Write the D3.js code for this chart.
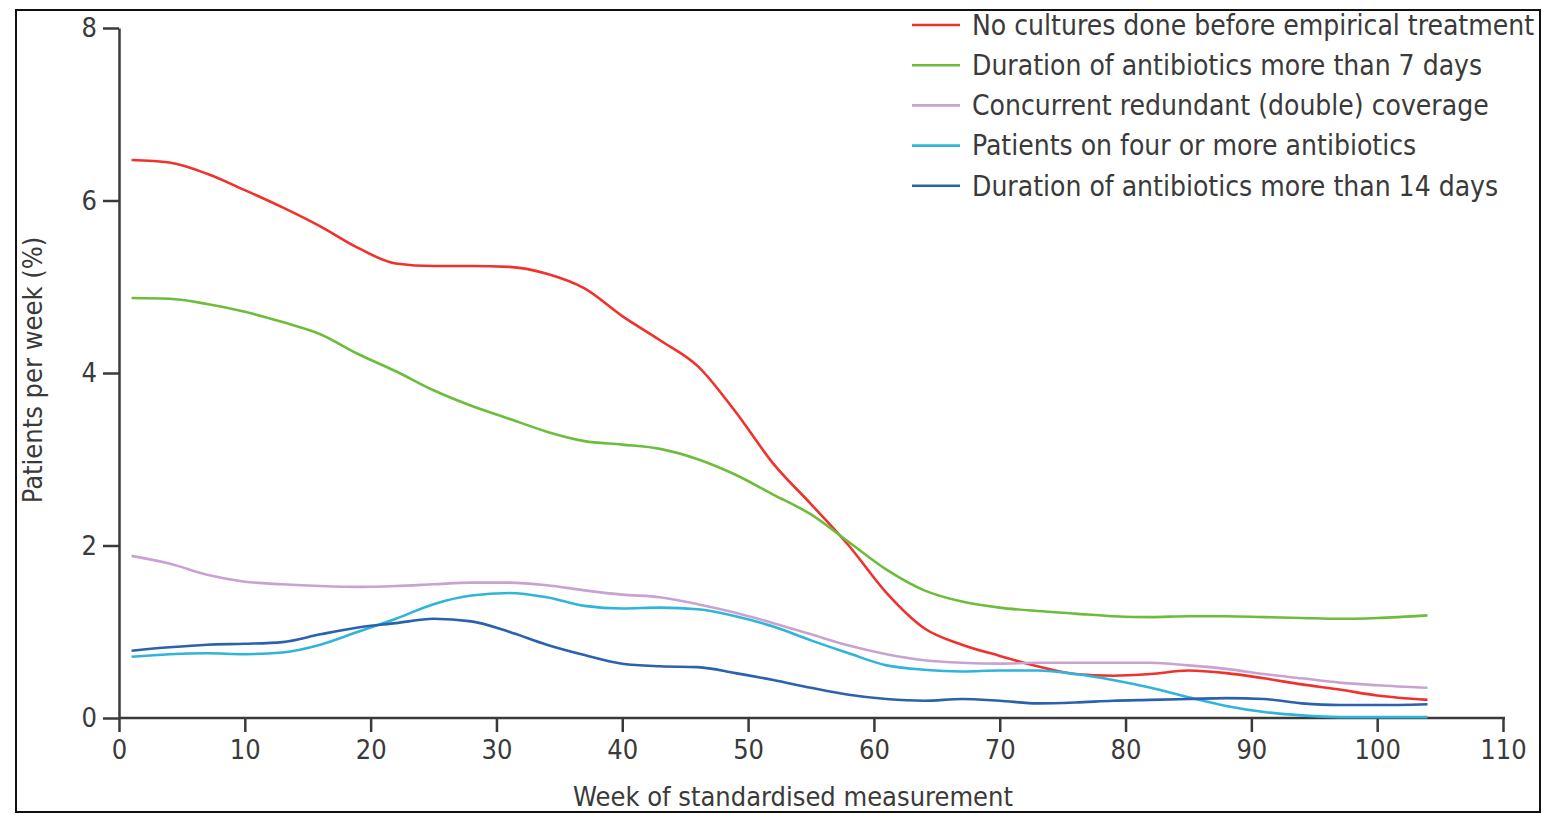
<!DOCTYPE html>
<html>
<head>
  <meta charset="utf-8">
  <title>Antibiotic stewardship indicators per week</title>
  <script src="https://d3js.org/d3.v7.min.js"></script>
  <style>
    body { margin: 0; background: #fff; }
    text { font-family: "Liberation Sans Narrow", "DejaVu Sans Condensed", sans-serif; fill: #3a3a3a; }
  </style>
</head>
<body>
<div id="chart"></div>
<script>

const weeks = [1, 4, 7, 10, 13, 16, 19, 22, 25, 28, 31, 34, 37, 40, 43, 46, 49, 52, 55, 58,
  61, 64, 67, 70, 73, 76, 79, 82, 85, 88, 91, 94, 97, 100, 104];

// Series values (patients per week, %)
const noCultures = [6.47, 6.44, 6.31, 6.12, 5.92, 5.70, 5.45, 5.27, 5.24, 5.24, 5.23, 5.15, 4.98, 4.66, 4.38, 4.08, 3.55, 2.95, 2.48, 2.00,
  1.45, 1.04, 0.85, 0.72, 0.60, 0.51, 0.49, 0.51, 0.55, 0.52, 0.46, 0.39, 0.33, 0.26, 0.21];
const duration7 = [4.87, 4.86, 4.80, 4.71, 4.59, 4.45, 4.22, 4.02, 3.80, 3.62, 3.47, 3.32, 3.21, 3.17, 3.12, 3.00, 2.82, 2.59, 2.36, 2.04,
  1.72, 1.48, 1.35, 1.28, 1.24, 1.21, 1.18, 1.17, 1.18, 1.18, 1.17, 1.16, 1.15, 1.16, 1.19];
const redundant = [1.88, 1.79, 1.66, 1.58, 1.55, 1.53, 1.52, 1.53, 1.55, 1.57, 1.57, 1.54, 1.48, 1.43, 1.40, 1.32, 1.22, 1.10, 0.97, 0.84,
  0.74, 0.67, 0.64, 0.63, 0.64, 0.64, 0.64, 0.64, 0.61, 0.57, 0.51, 0.46, 0.41, 0.38, 0.35];
const fourOrMore = [0.71, 0.74, 0.75, 0.74, 0.76, 0.85, 1.00, 1.15, 1.32, 1.42, 1.45, 1.40, 1.30, 1.27, 1.28, 1.26, 1.18, 1.06, 0.90, 0.75,
  0.61, 0.56, 0.54, 0.55, 0.55, 0.51, 0.44, 0.35, 0.24, 0.14, 0.07, 0.03, 0.01, 0.01, 0.01];
const duration14 = [0.78, 0.82, 0.85, 0.86, 0.88, 0.97, 1.05, 1.10, 1.15, 1.12, 1.00, 0.85, 0.73, 0.63, 0.60, 0.59, 0.52, 0.44, 0.35, 0.27,
  0.22, 0.20, 0.22, 0.20, 0.17, 0.18, 0.20, 0.21, 0.22, 0.23, 0.22, 0.17, 0.15, 0.15, 0.16];

const seriesNames = [
  "No cultures done before empirical treatment",
  "Duration of antibiotics more than 7 days",
  "Concurrent redundant (double) coverage",
  "Patients on four or more antibiotics",
  "Duration of antibiotics more than 14 days"
];
const seriesValues = [noCultures, duration7, redundant, fourOrMore, duration14];
const seriesColors = ["#f0312c", "#6dbd3d", "#c9a2d2", "#2fb4da", "#2a62ad"];

const xTicks = [0, 10, 20, 30, 40, 50, 60, 70, 80, 90, 100, 110];
const yTicks = [0, 2, 4, 6, 8];

// Page size and frame
const W = 1542, H = 814;
const frame = {x0: 16, y0: 10, x1: 1540, y1: 812};

const svg = d3.select("#chart").append("svg")
  .attr("width", W)
  .attr("height", H);

const g = svg.append("g");

// Scales
const x = d3.scaleLinear().domain([0, 110]).range([119, 1503]);
const y = d3.scaleLinear().domain([0, 8]).range([718, 28]);

// Axes
const axisColor = "#3a3a3a";

const yAxis = g.append("g")
  .attr("transform", `translate(${x(0)},0)`)
  .call(d3.axisLeft(y).tickValues(yTicks).tickSize(16).tickSizeOuter(0).tickPadding(6));

const xAxis = g.append("g")
  .attr("transform", `translate(0,${y(0)})`)
  .call(d3.axisBottom(x).tickValues(xTicks).tickSize(14).tickSizeOuter(0).tickPadding(8));

[xAxis, yAxis].forEach(a => {
  a.select(".domain").attr("stroke", axisColor).attr("stroke-width", 2.5);
  a.selectAll(".tick line").attr("stroke", axisColor).attr("stroke-width", 2.5);
  a.selectAll(".tick text")
    .style("font-family", '"Liberation Sans Narrow", "DejaVu Sans Condensed", sans-serif')
    .style("font-size", "27px")
    .attr("fill", axisColor);
});
// extend the x axis line slightly past the 110 tick
xAxis.select(".domain").attr("d", `M${x(0)},0H${x(110) + 2}`);

// Axis titles
g.append("text")
  .attr("x", 793)
  .attr("y", 806)
  .attr("text-anchor", "middle")
  .style("font-size", "27px")
  .text("Week of standardised measurement");

g.append("text")
  .attr("transform", "translate(42,370) rotate(-90)")
  .attr("text-anchor", "middle")
  .style("font-size", "27px")
  .text("Patients per week (%)");

// Lines
const line = d3.line()
  .x(d => x(d[0]))
  .y(d => y(d[1]))
  .curve(d3.curveMonotoneX);

seriesValues.forEach((vals, i) => {
  g.append("path")
    .datum(weeks.map((w, j) => [w, vals[j]]))
    .attr("fill", "none")
    .attr("stroke", seriesColors[i])
    .attr("stroke-width", 2.6)
    .attr("d", line);
});

// Legend
const legend = g.append("g").attr("transform", "translate(912,25)");
seriesNames.forEach((name, i) => {
  const row = legend.append("g").attr("transform", `translate(0,${i * 40.2})`);
  row.append("line")
    .attr("x1", 0).attr("x2", 48)
    .attr("stroke", seriesColors[i])
    .attr("stroke-width", 2.6);
  row.append("text")
    .attr("x", 60)
    .attr("dy", "0.35em")
    .style("font-size", "28px")
    .text(name);
});

// Frame around the figure
svg.append("rect")
  .attr("x", frame.x0).attr("y", frame.y0)
  .attr("width", frame.x1 - frame.x0).attr("height", frame.y1 - frame.y0)
  .attr("fill", "none")
  .attr("stroke", "#111")
  .attr("stroke-width", 2);

</script>
</body>
</html>
